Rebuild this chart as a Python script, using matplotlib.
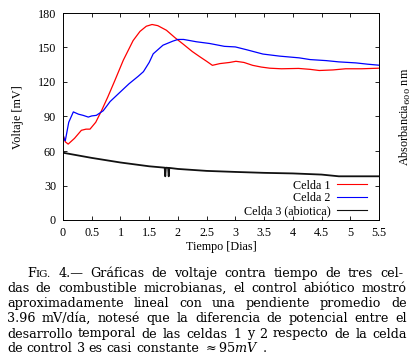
import matplotlib
matplotlib.use("Agg")
import matplotlib.pyplot as plt

# Celda 1 (red)
t1 = [0, 0.04, 0.09, 0.2, 0.32, 0.4, 0.47, 0.57, 0.67, 0.78, 0.9, 1.05, 1.22, 1.34,
      1.45, 1.55, 1.65, 1.8, 1.95, 2.09, 2.25, 2.38, 2.5, 2.6, 2.73, 2.9, 3.01, 3.15,
      3.3, 3.45, 3.6, 3.8, 4.1, 4.3, 4.46, 4.7, 4.92, 5.2, 5.5]
v1 = [74, 68, 66, 71, 78, 79, 79, 85, 95, 107, 121, 139, 156, 164,
      168.5, 170, 169, 165, 158.5, 153, 146.5, 142, 138, 134.5, 136, 137, 138, 137,
      134.5, 133, 132, 131.5, 131.8, 131, 130, 130.5, 131.5, 131.5, 132]

# Celda 2 (blue)
t2 = [0, 0.02, 0.04, 0.1, 0.18, 0.27, 0.35, 0.44, 0.5, 0.58, 0.7, 0.82, 0.99, 1.15,
      1.31, 1.4, 1.5, 1.57, 1.74, 1.91, 2.0, 2.1, 2.32, 2.55, 2.81, 3.0, 3.2, 3.48,
      3.77, 4.11, 4.3, 4.58, 4.8, 5.1, 5.3, 5.5]
v2 = [75, 70, 69, 85, 94, 92, 91, 89.5, 90.5, 91, 95, 103, 111, 118.5,
      125, 129, 137, 144.5, 152, 155.5, 157, 157, 155, 153.5, 151, 150.5, 148, 144.3,
      142.5, 141, 139.5, 138.6, 137.5, 136.6, 135.5, 134.6]

# Celda 3 (abiotica)
t3 = [0, 0.5, 1, 1.5, 1.77, 1.78, 1.79, 1.83, 1.84, 1.85, 2, 2.5, 3, 3.5, 4, 4.5, 4.8, 5.5]
v3 = [58.5, 54, 50, 46.7, 45.5, 38, 45.5, 45.3, 38, 45.3, 44.4, 42.7, 41.8, 41, 40.5,
      39.5, 38, 38]

xticks = [0, 0.5, 1, 1.5, 2, 2.5, 3, 3.5, 4, 4.5, 5, 5.5]
xticklabels = ["0", "0.5", "1", "1.5", "2", "2.5", "3", "3.5", "4", "4.5", "5", "5.5"]
yticks = [0, 30, 60, 90, 120, 150, 180]

caption = [
    [[("F", 1.0), ("IG.", 0.8)], "4.—", "Gráficas", "de", "voltaje", "contra", "tiempo",
     "de", "tres", "cel-"],
    "das de combustible microbianas, el control abiótico mostró".split(),
    "aproximadamente lineal con una pendiente promedio de".split(),
    "3.96 mV/día, notesé que la diferencia de potencial entre el".split(),
    "desarrollo temporal de las celdas 1 y 2 respecto de la celda".split(),
    "de control 3 es casi constante".split() + [r"$\approx 95mV$", "."],
]

plt.rcParams["font.family"] = "Liberation Serif"
plt.rcParams["mathtext.fontset"] = "dejavuserif"

W, H = 417, 357
fig = plt.figure(figsize=(W / 100, H / 100), dpi=100)
ax = fig.add_axes([63 / W, 1 - 220 / H, 316 / W, 207 / H])

ax.plot(t1, v1, color="#ff0000", lw=0.9, label="Celda 1")
ax.plot(t2, v2, color="#0000ff", lw=0.9, label="Celda 2")
ax.plot(t3, v3, color="#111111", lw=1.3, label="Celda 3 (abiotica)")

ax.set_xlim(0, 5.5)
ax.set_ylim(0, 180)
ax.set_xticks(xticks)
ax.set_xticklabels(xticklabels)
ax.set_yticks(yticks)
ax.tick_params(direction="in", length=3, width=0.6, labelsize=8.7, pad=5,
               top=True, right=True)
for s in ax.spines.values():
    s.set_linewidth(0.7)

fig.text(18 / W, 1 - 117 / H, "Voltaje [mV]", rotation=90, ha="center", va="center",
         fontsize=8.7)
fig.text(405 / W, 1 - 117 / H, r"Absorbancia$_{600}$ nm", rotation=90, ha="center",
         va="center", fontsize=8.7)
fig.text(221 / W, 1 - 247 / H, "Tiempo [Dias]", ha="center", va="center", fontsize=8.7)

leg = ax.legend(loc="lower right", bbox_to_anchor=(0.962, 0.015), frameon=False,
                markerfirst=False, fontsize=8.7, handlelength=2.5, handletextpad=0.5,
                labelspacing=0.05, borderpad=0, borderaxespad=0)
for line in leg.get_lines():
    line.set_linewidth(0.8)

# caption, justified word by word
cap_font = dict(family="DejaVu Serif", size=9.2)
renderer = fig.canvas.get_renderer()
baselines = [277, 292, 307, 322, 337.5, 352.5]
lefts = [27, 7, 7, 7, 7, 7]
rights = [403, 407, 407, 407, 407, None]


def word_parts(word):
    if isinstance(word, str):
        return [(word, 1.0)]
    return word


def part_width(txt, scale):
    t = fig.text(0, 0, txt, fontsize=cap_font["size"] * scale, family=cap_font["family"])
    w = t.get_window_extent(renderer).width
    t.remove()
    return w


space_w = part_width("a a", 1.0) - part_width("aa", 1.0)

for words, yb, xl, xr in zip(caption, baselines, lefts, rights):
    widths = [sum(part_width(p, s) for p, s in word_parts(w)) for w in words]
    if xr is None:
        gap = space_w
    else:
        gap = (xr - xl - sum(widths)) / (len(words) - 1)
    x = xl
    for w, wd in zip(words, widths):
        xx = x
        for p, s in word_parts(w):
            fig.text(xx / W, 1 - yb / H, p, fontsize=cap_font["size"] * s,
                     family=cap_font["family"], va="baseline", ha="left")
            xx += part_width(p, s)
        x += wd + gap

fig.savefig("out.png", dpi=100)
